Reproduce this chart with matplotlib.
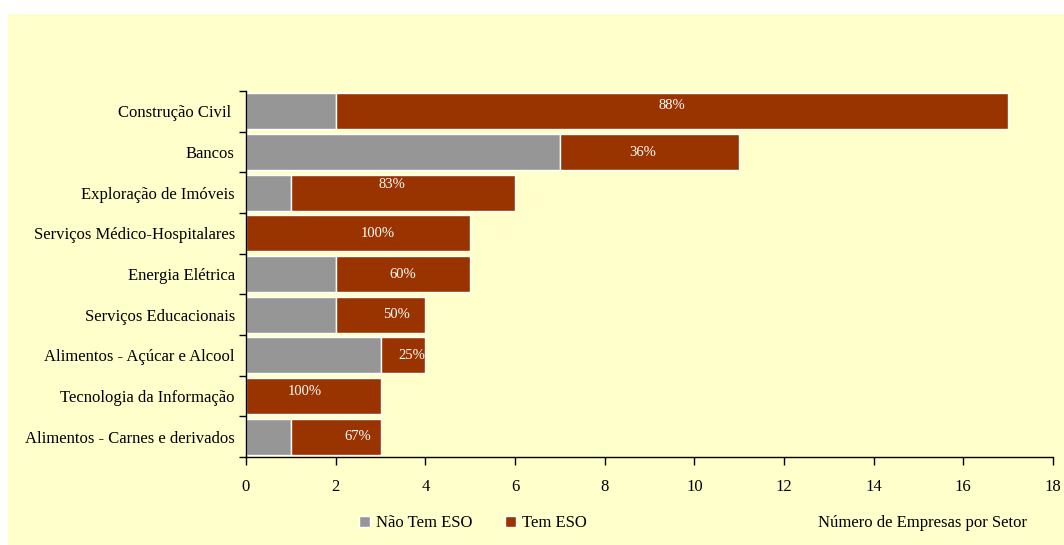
import matplotlib
matplotlib.use('Agg')
import matplotlib.pyplot as plt
import matplotlib.patches as mpatches
import numpy as np

BG = '#FFFFCC'
GRAY = '#969696'
RED = '#993300'

setores = ['Construção Civil ', 'Bancos', 'Exploração de Imóveis',
           'Serviços Médico-Hospitalares', 'Energia Elétrica',
           'Serviços Educacionais', 'Alimentos - Açúcar e Alcool',
           'Tecnologia da Informação', 'Alimentos - Carnes e derivados']
nao_tem = [2, 7, 1, 0, 2, 2, 3, 0, 1]
tem = [15, 4, 5, 5, 3, 2, 1, 3, 2]
pct = ['88%', '36%', '83%', '100%', '60%', '50%', '25%', '100%', '67%']

# small nudges for the percentage labels (data units: dx, dy)
nudge = [(0.0, -0.15), (-0.15, 0.0), (-0.25, -0.2), (0.45, 0.0), (0.0, 0.0),
         (0.35, 0.0), (0.2, 0.0), (-0.2, -0.1), (0.5, 0.0)]

plt.rcParams['font.family'] = ['Liberation Serif', 'DejaVu Serif']

fig = plt.figure(figsize=(10.64, 5.45), dpi=100, facecolor='white')
fig.patches.append(mpatches.Rectangle((8 / 1064, 0), 1, 1 - 14 / 545,
                                      transform=fig.transFigure,
                                      facecolor=BG, edgecolor='none', zorder=-10))

ax = fig.add_axes([246 / 1064, 1 - 457 / 545, (1053 - 246) / 1064, (457 - 91) / 545])
ax.set_facecolor(BG)

y = np.arange(len(setores))
h = 0.88
ax.barh(y, nao_tem, height=h, color=GRAY, edgecolor='white', linewidth=1)
ax.barh(y, tem, left=nao_tem, height=h, color=RED, edgecolor='white', linewidth=1)

for i in range(len(setores)):
    cx = nao_tem[i] + tem[i] / 2 + nudge[i][0]
    ax.text(cx, y[i] + nudge[i][1], pct[i], ha='center', va='center',
            color='white', fontsize=10.5)

ax.set_ylim(len(setores) - 0.5, -0.5)
ax.set_xlim(0, 18)
ax.set_xticks(np.arange(0, 19, 2))
ax.set_yticks(y)
ax.set_yticklabels(setores)
ax.set_yticks(np.arange(-0.5, len(setores), 1), minor=True)
ax.tick_params(axis='y', which='major', length=0, pad=8, labelsize=12)
ax.tick_params(axis='y', which='minor', length=5, width=1, direction='out')
ax.tick_params(axis='x', length=6, width=1, direction='out', pad=10, labelsize=12)

for s in ['top', 'right']:
    ax.spines[s].set_visible(False)
for s in ['left', 'bottom']:
    ax.spines[s].set_linewidth(1)

fig.text(922 / 1064, 1 - 523 / 545, 'Número de Empresas por Setor',
         ha='center', va='center', fontsize=12)

handles = [mpatches.Patch(facecolor=GRAY, edgecolor='white', label='Não Tem ESO'),
           mpatches.Patch(facecolor=RED, edgecolor='white', label='Tem ESO')]
fig.legend(handles=handles, loc='center', bbox_to_anchor=(473 / 1064, 1 - 523 / 545),
           ncol=2, frameon=False, fontsize=12, handlelength=0.65, handleheight=0.65,
           handletextpad=0.35, columnspacing=2.0)

fig.savefig('out.png', dpi=100, facecolor='white')
